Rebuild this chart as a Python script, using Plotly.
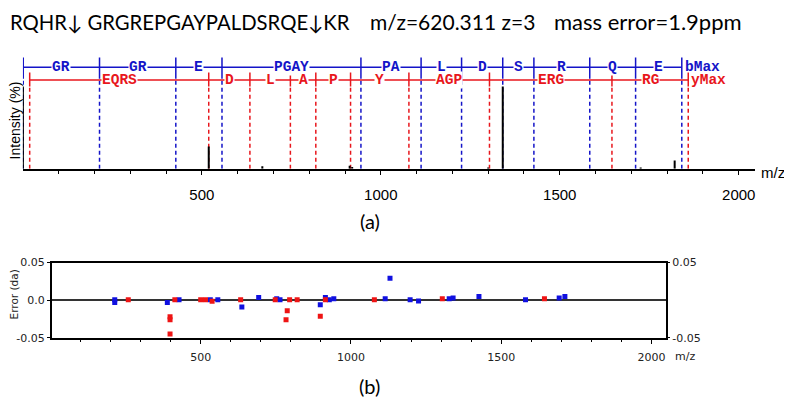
import plotly.graph_objects as go

# ---------------- data ----------------
b_mz = [1.007, 214.12, 427.25, 556.29, 944.46, 1112.55, 1225.63, 1340.66, 1427.69, 1583.79, 1711.85, 1840.89]
b_labels = ["GR", "GR", "E", "PGAY", "PA", "L", "D", "S", "R", "Q", "E"]
y_mz = [19.02, 519.25, 634.28, 747.36, 818.40, 915.45, 1078.51, 1303.62, 1645.78, 1858.91]
y_labels = ["EQRS", "D", "L", "A", "P", "Y", "AGP", "ERG", "RG"]

peak_mz = [519.3, 669, 913, 920, 1300, 1340.7, 1726, 1821]
peak_int = [27, 3, 3.5, 2, 1.5, 100, 1.5, 10]

blue_err_mz = [214, 214, 389, 428, 532, 557, 637, 693, 753, 764, 898, 915, 928, 943,
               1114, 1130, 1197, 1225, 1327, 1340, 1426, 1581, 1693, 1712]
blue_err = [0.0005, -0.003, -0.003, 0.0005, 0.0005, 0.0005, -0.009, 0.0035, 0.002, 0.0005,
            -0.006, 0.0035, 0.0005, 0.002, 0.002, 0.029, 0.0005, -0.001, 0.002, 0.003,
            0.005, 0.0005, 0.003, 0.005]
red_err_mz = [259, 398, 398, 398, 414, 500, 516, 538, 633, 748, 784, 788, 796, 821,
              898, 915, 1078, 1304, 1644]
red_err = [0.0005, -0.022, -0.026, -0.045, 0.0005, 0.0005, 0.0005, -0.0015, 0.0005, 0.0005,
           -0.026, -0.014, 0.0005, 0.0005, -0.0215, 0.0005, 0.0005, 0.002, 0.002]

title_seq = "RQHR\u2193 GRGREPGAYPALDSRQE\u2193KR"
title_mz = "m/z=620.311 z=3"
title_err = "mass error=1.9ppm"

BLUE = "#1414c8"
RED = "#e8161c"
OFF = 8                      # page body margin in the browser
W, H = 792 - OFF, 404 - OFF  # figure size so it fits the window


# page pixel -> paper fraction
def px_x(p):
    return (p - OFF) / W


def px_y(p):
    return 1 - (p - OFF) / H


# y-levels in top panel data units (0..100 = intensity)
B_ROW, R_ROW = 123.5, 108.0
B_TICK = (109.4, 135.3)
R_TICK = (100.0, 117.0)


def vlines(xs, y0, y1):
    X, Y = [], []
    for x in xs:
        X += [x, x, None]
        Y += [y0, y1, None]
    return X, Y


fig = go.Figure()

X, Y = vlines(b_mz, 0, B_TICK[0])
fig.add_trace(go.Scatter(x=X, y=Y, mode="lines", line=dict(color=BLUE, width=1.5, dash="4px,3px"),
                         xaxis="x", yaxis="y", hoverinfo="skip"))
X, Y = vlines(y_mz, 0, R_TICK[0])
fig.add_trace(go.Scatter(x=X, y=Y, mode="lines", line=dict(color=RED, width=1.5, dash="4px,3px"),
                         xaxis="x", yaxis="y", hoverinfo="skip"))
X, Y = vlines(b_mz, *B_TICK)
fig.add_trace(go.Scatter(x=X, y=Y, mode="lines", line=dict(color=BLUE, width=1.5),
                         xaxis="x", yaxis="y", hoverinfo="skip"))
X, Y = vlines(y_mz, *R_TICK)
fig.add_trace(go.Scatter(x=X, y=Y, mode="lines", line=dict(color=RED, width=1.5),
                         xaxis="x", yaxis="y", hoverinfo="skip"))
fig.add_trace(go.Scatter(x=[b_mz[0], b_mz[-1]], y=[B_ROW, B_ROW], mode="lines",
                         line=dict(color=BLUE, width=1.5), xaxis="x", yaxis="y", hoverinfo="skip"))
fig.add_trace(go.Scatter(x=[y_mz[0], y_mz[-1]], y=[R_ROW, R_ROW], mode="lines",
                         line=dict(color=RED, width=1.5), xaxis="x", yaxis="y", hoverinfo="skip"))
X, Y = [], []
for m, it in zip(peak_mz, peak_int):
    X += [m, m, None]
    Y += [0, it, None]
fig.add_trace(go.Scatter(x=X, y=Y, mode="lines", line=dict(color="black", width=2),
                         xaxis="x", yaxis="y", hoverinfo="skip"))

fig.add_trace(go.Scatter(x=blue_err_mz, y=blue_err, mode="markers",
                         marker=dict(symbol="square", size=5, color="#1010e0"),
                         xaxis="x2", yaxis="y2"))
fig.add_trace(go.Scatter(x=red_err_mz, y=red_err, mode="markers",
                         marker=dict(symbol="square", size=5, color="#ee1414"),
                         xaxis="x2", yaxis="y2"))
fig.add_trace(go.Scatter(x=[None], y=[None], xaxis="x2", yaxis="y3", showlegend=False))

annotations = []
lab_font = dict(family="Liberation Mono", size=14.5, weight="bold")
for i, lab in enumerate(b_labels):
    annotations.append(dict(x=(b_mz[i] + b_mz[i + 1]) / 2, y=B_ROW, xref="x", yref="y", text=lab,
                            xanchor="center", yanchor="middle",
                            showarrow=False, bgcolor="white", borderpad=0,
                            font=dict(color=BLUE, **lab_font)))
for i, lab in enumerate(y_labels):
    annotations.append(dict(x=(y_mz[i] + y_mz[i + 1]) / 2, y=R_ROW, xref="x", yref="y", text=lab,
                            xanchor="center", yanchor="middle",
                            showarrow=False, bgcolor="white", borderpad=0,
                            font=dict(color=RED, **lab_font)))
annotations.append(dict(x=b_mz[-1], y=B_ROW, xref="x", yref="y", text="bMax", xanchor="left",
                        yanchor="middle", xshift=1, showarrow=False, font=dict(color=BLUE, **lab_font)))
annotations.append(dict(x=y_mz[-1], y=R_ROW, xref="x", yref="y", text="yMax", xanchor="left",
                        yanchor="middle", xshift=1, showarrow=False, font=dict(color=RED, **lab_font)))


def page_text(x, y, text, font, xanchor="center", angle=0):
    return dict(x=px_x(x), y=px_y(y), xref="paper", yref="paper", text=text, xanchor=xanchor,
                yanchor="middle", showarrow=False, textangle=angle, font=font)


annotations += [
    page_text(OFF, 16, title_seq, dict(family="Lato", size=20.3, color="black"), "left"),
    page_text(368, 16, title_mz, dict(family="Lato", size=21, color="black"), "left"),
    page_text(553, 16, title_err, dict(family="Lato", size=22, color="black"), "left"),
    page_text(370, 222, "(a)", dict(family="Lato", size=20, color="black")),
    page_text(370, 393, "(b)", dict(family="Lato", size=20, color="black")),
    page_text(15, 118, "Intensity (%)", dict(family="Liberation Sans", size=14, color="black"), angle=-90),
    page_text(774, 172, "m/z", dict(family="Liberation Sans", size=15, color="black")),
    page_text(14, 298, "Error (da)", dict(family="DejaVu Sans", size=10.5, color="#222"), angle=-90),
    page_text(686, 362, "m/z", dict(family="DejaVu Sans", size=11, color="#222")),
]

fig.update_layout(
    width=W, height=H, margin=dict(l=0, r=0, t=0, b=0),
    plot_bgcolor="white", paper_bgcolor="white", showlegend=False,
    annotations=annotations,
    shapes=[dict(type="line", xref="x", yref="y", x0=0, x1=0, y0=0, y1=100,
                 line=dict(color="black", width=2))],
    xaxis=dict(domain=[px_x(22.9), px_x(755.8)], range=[0, 2045], anchor="y",
               showline=True, linecolor="black", linewidth=2, showgrid=False, zeroline=False,
               tickvals=[500, 1000, 1500, 2000], ticks="outside", ticklen=4, tickcolor="black",
               tickfont=dict(family="Liberation Sans", size=15, color="black"),
               minor=dict(tickvals=list(range(100, 2001, 100)), ticks="outside", ticklen=3,
                          tickcolor="black", showgrid=False),
               ticklabelstandoff=7),
    yaxis=dict(domain=[px_y(168), px_y(49)], range=[0, 140], anchor="x", visible=False),
    xaxis2=dict(domain=[px_x(51.7), px_x(667)], range=[4, 2049], anchor="y2",
                showline=True, linecolor="black", linewidth=1.5, mirror=True, showgrid=False,
                zeroline=False, tickvals=[500, 1000, 1500, 2000], ticks="outside", ticklen=5,
                tickcolor="black", tickfont=dict(family="DejaVu Sans", size=11, color="#222"),
                minor=dict(tickvals=list(range(100, 2001, 100)), ticks="outside", ticklen=3,
                           tickcolor="black", showgrid=False),
                ticklabelstandoff=3),
    yaxis2=dict(domain=[px_y(342.7), px_y(265)], range=[-0.05, 0.05], anchor="x2",
                showline=True, linecolor="black", linewidth=1.5, mirror=True, showgrid=False,
                zeroline=True, zerolinecolor="#333", zerolinewidth=2,
                tickvals=[-0.05, 0, 0.05], ticktext=["-0.05", "0.0", "0.05"],
                ticks="outside", ticklen=3, tickcolor="black",
                tickfont=dict(family="DejaVu Sans", size=11, color="#222")),
    yaxis3=dict(overlaying="y2", side="right", range=[-0.05, 0.05], anchor="x2",
                showgrid=False, zeroline=False, showline=False,
                tickvals=[-0.05, 0.05], ticktext=["-0.05", "0.05"],
                ticks="outside", ticklen=3, tickcolor="black",
                tickfont=dict(family="DejaVu Sans", size=11, color="#222")),
)

fig.write_html("out.html")
